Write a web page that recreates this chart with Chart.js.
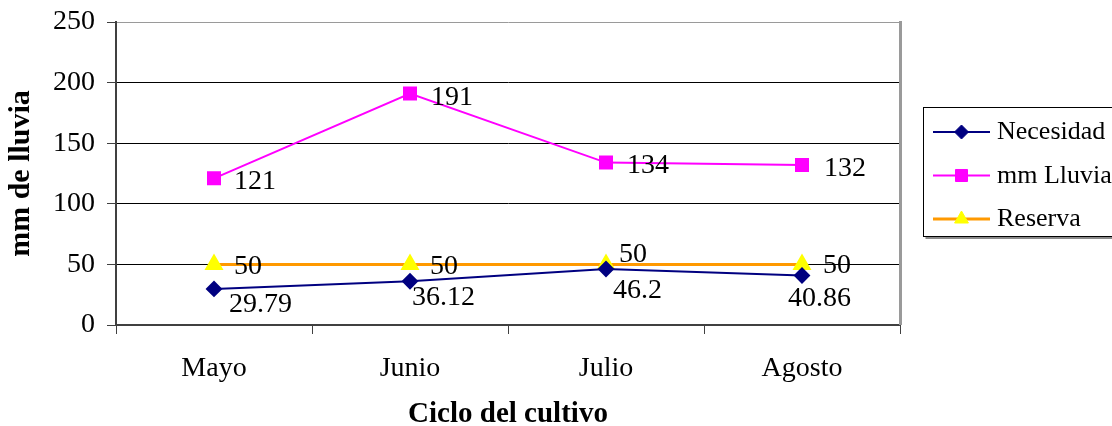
<!DOCTYPE html>
<html>
<head>
<meta charset="utf-8">
<script src="https://cdn.jsdelivr.net/npm/chart.js@4/dist/chart.umd.min.js"></script>
<style>
  html, body { margin: 0; padding: 0; background: #fff; }
  #wrap { width: 1112px; height: 426px; }
</style>
</head>
<body>
<div id="wrap"><canvas id="chart" width="1112" height="426"></canvas></div>
<script>
// Monthly crop-cycle water balance
const months = ['Mayo', 'Junio', 'Julio', 'Agosto'];
const necesidad = [29.79, 36.12, 46.2, 40.86];
const lluvia = [121, 191, 134, 132];
const reserva = [50, 50, 50, 50];
const yTickValues = [0, 50, 100, 150, 200, 250];
const seriesNames = ['Necesidad', 'mm Lluvia', 'Reserva'];

const SERIF = '"Liberation Serif", "Times New Roman", serif';

// Per-point placement of the value labels (dx, dy from the marker centre)
const labelShift = {
  0: [[15, 14], [2, 14], [7, 19], [-14, 21]],
  1: [[20, 1], [21, 2], [21, 1], [22, 1]],
  2: [[20, 0], [20, 0], [13, -12], [21, -1]]
};

const valueLabels = {
  id: 'valueLabels',
  afterDatasetsDraw(chart) {
    const ctx = chart.ctx;
    ctx.save();
    ctx.font = '28px ' + SERIF;
    ctx.fillStyle = '#000';
    ctx.textAlign = 'left';
    ctx.textBaseline = 'alphabetic';
    chart.data.datasets.forEach((ds, di) => {
      const meta = chart.getDatasetMeta(di);
      meta.data.forEach((pt, i) => {
        const [dx, dy] = labelShift[di][i];
        ctx.fillText(String(ds.data[i]), pt.x + dx, pt.y + dy + 0.34 * 28);
      });
    });
    ctx.restore();
  }
};

// Plot frame on the right edge and the boxed legend
const frameAndLegend = {
  id: 'frameAndLegend',
  afterDraw(chart) {
    const ctx = chart.ctx;
    const a = chart.chartArea;
    ctx.save();
    ctx.strokeStyle = '#9a9a9a';
    ctx.lineWidth = 3;
    ctx.beginPath();
    ctx.moveTo(a.right + 0.5, a.top - 1);
    ctx.lineTo(a.right + 0.5, a.bottom);
    ctx.stroke();

    // legend box with a soft shadow along its bottom
    const bx = 923.5, by = 107.5, bw = 189, bh = 129;
    ctx.fillStyle = '#8a8a8a';
    ctx.fillRect(bx + 2, by + bh + 0.5, bw, 2);
    ctx.lineWidth = 1;
    ctx.strokeStyle = '#000';
    ctx.strokeRect(bx, by, bw, bh);
    ctx.font = '26px ' + SERIF;
    ctx.textAlign = 'left';
    ctx.textBaseline = 'alphabetic';
    chart.data.datasets.forEach((ds, i) => {
      const y = 132 + i * 43.5;
      ctx.strokeStyle = ds.borderColor;
      ctx.lineWidth = ds.borderWidth;
      ctx.beginPath();
      ctx.moveTo(933, y);
      ctx.lineTo(990, y);
      ctx.stroke();
      ctx.fillStyle = ds.pointBackgroundColor;
      ctx.strokeStyle = ds.pointBorderColor;
      ctx.lineWidth = 1;
      Chart.helpers.drawPoint(ctx, {
        pointStyle: ds.pointStyle, radius: ds.pointRadius, rotation: 0, borderWidth: 1
      }, 961.5, y);
      ctx.fillStyle = '#000';
      ctx.fillText(ds.label, 997, y + 7);
    });
    ctx.restore();
  }
};

new Chart(document.getElementById('chart'), {
  type: 'line',
  data: {
    labels: months,
    datasets: [
      {
        label: seriesNames[0], data: necesidad,
        borderColor: '#000080', backgroundColor: '#000080', borderWidth: 2,
        pointStyle: 'rectRot', pointRadius: 7,
        pointBackgroundColor: '#000080', pointBorderColor: '#000080',
        tension: 0
      },
      {
        label: seriesNames[1], data: lluvia,
        borderColor: '#ff00ff', backgroundColor: '#ff00ff', borderWidth: 2,
        pointStyle: 'rect', pointRadius: 8.5,
        pointBackgroundColor: '#ff00ff', pointBorderColor: '#ff00ff',
        tension: 0
      },
      {
        label: seriesNames[2], data: reserva,
        borderColor: '#ff9900', backgroundColor: '#ff9900', borderWidth: 3,
        pointStyle: 'triangle', pointRadius: 8,
        pointBackgroundColor: '#ffff00', pointBorderColor: '#ffff00',
        tension: 0
      }
    ]
  },
  options: {
    responsive: false,
    animation: false,
    devicePixelRatio: 1,
    layout: { padding: { left: 0, top: 22, right: 212, bottom: 0 } },
    plugins: { legend: { display: false }, tooltip: { enabled: false } },
    scales: {
      x: {
        type: 'category',
        offset: true,
        afterFit(scale) { scale.height = 101; scale.paddingLeft = 0; scale.paddingRight = 0; },
        grid: { offset: true, drawOnChartArea: false, drawTicks: true, tickLength: 9, color: '#404040', lineWidth: 1 },
        border: { display: true, color: '#404040', width: 2 },
        ticks: { color: '#000', font: { family: SERIF, size: 28 }, padding: 18 },
        title: {
          display: true, text: 'Ciclo del cultivo', color: '#000',
          font: { family: SERIF, size: 29, weight: 'bold', lineHeight: 1 },
          padding: { top: 0, bottom: -3 }
        }
      },
      y: {
        min: 0, max: 250,
        afterFit(scale) { scale.width = 116; scale.paddingTop = 0; scale.paddingBottom = 0; },
        afterBuildTicks(scale) { scale.ticks = yTickValues.map(v => ({ value: v })); },
        grid: {
          drawTicks: true, tickLength: 9, lineWidth: 1,
          color: (c) => (c.tick && c.tick.value === 250 ? '#9a9a9a' : '#000'),
          tickColor: '#404040'
        },
        border: { display: true, color: '#404040', width: 2 },
        ticks: { color: '#000', font: { family: SERIF, size: 28 }, padding: 12 },
        title: {
          display: true, text: 'mm de lluvia', color: '#000',
          font: { family: SERIF, size: 30, weight: 'bold', lineHeight: 1 },
          padding: { top: 6, bottom: 0 }
        }
      }
    }
  },
  plugins: [valueLabels, frameAndLegend]
});
</script>
</body>
</html>
